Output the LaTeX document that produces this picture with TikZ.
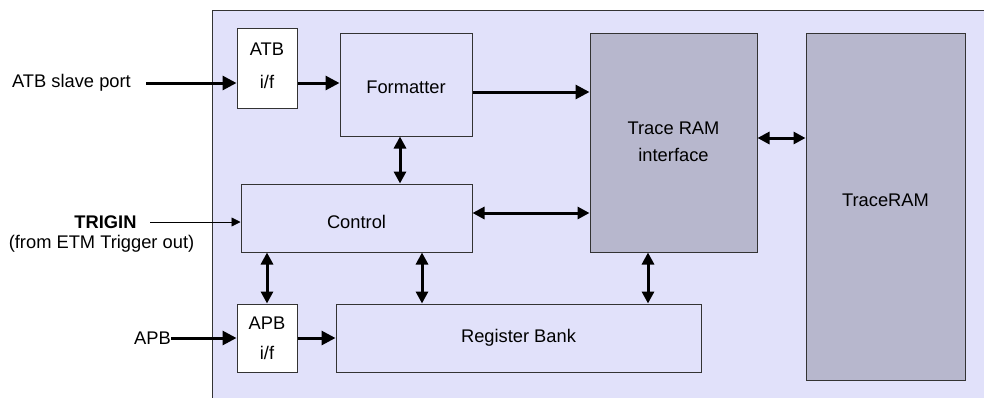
\documentclass[tikz,border=0pt]{standalone}
\usepackage{fontspec}
\setmainfont{Liberation Sans}
\usetikzlibrary{arrows.meta}
\definecolor{lav}{HTML}{E1E1FA}
\definecolor{grayblk}{HTML}{B7B7CD}
\definecolor{edge}{HTML}{333333}
\tikzset{
  blk/.style={draw=edge, line width=1pt, inner sep=0pt},
  lavblk/.style={blk, fill=lav},
  whiteblk/.style={blk, fill=white},
  grayblock/.style={blk, fill=grayblk},
  lbl/.style={inner sep=0pt, align=center, font=\fontsize{18.3}{22}\selectfont},
  bus/.style={line width=3pt, -{Triangle[length=14pt,width=14pt]}},
  bibus/.style={line width=3pt, {Triangle[length=12pt,width=12pt]}-{Triangle[length=12pt,width=12pt]}},
  thin/.style={line width=0.8pt, -{Triangle[length=9pt,width=9pt]}},
}
\begin{document}
\begin{tikzpicture}[x=1pt,y=-1pt]
\useasboundingbox (0,0) rectangle (984,397);
\begin{scope}
\clip (0,0) rectangle (984,397);
\draw[draw=edge, line width=1pt, fill=lav] (212,10) rectangle (1000,410);
\end{scope}

% blocks
\node[whiteblk, minimum width=60pt, minimum height=80pt,
  label={[lbl, yshift=2.5pt, font=\fontsize{18.3}{33}\selectfont]center:ATB\\i/f}] (atbif) at (267,68) {};
\node[lavblk, minimum width=132pt, minimum height=103pt,
  label={[lbl, yshift=-2.5pt]center:Formatter}] (fmt) at (406,84.5) {};
\node[lavblk, minimum width=231pt, minimum height=68pt,
  label={[lbl, yshift=-4pt]center:Control}] (ctrl) at (356.5,218) {};
\node[whiteblk, minimum width=60pt, minimum height=68pt,
  label={[lbl, font=\fontsize{18.3}{30}\selectfont]center:APB\\i/f}] (apbif) at (267,338) {};
\node[lavblk, minimum width=365pt, minimum height=68pt,
  label={[lbl]center:Register Bank}] (reg) at (518.5,338) {};
\node[grayblock, minimum width=167pt, minimum height=219pt,
  label={[lbl, yshift=1pt, font=\fontsize{18.3}{27}\selectfont]center:Trace RAM\\interface}] (tri) at (673.5,142.5) {};
\node[grayblock, minimum width=159pt, minimum height=347pt,
  label={[lbl, yshift=6.5pt]center:TraceRAM}] (tram) at (885.5,206.5) {};

% outside labels
\node[lbl, anchor=east] (atbsp) at (131,83) {ATB slave port};
\coordinate (atbstart) at (146,83);
\node[lbl, font=\fontsize{18.3}{22}\selectfont\bfseries] (trigin) at (105.5,222) {TRIGIN};
\node[lbl] (frometm) at (101.5,244) {(from ETM Trigger out)};
\coordinate (trigstart) at (150,222);
\node[lbl, anchor=east] (apb) at (171,338) {APB};

% connectors
\draw[bus] (atbstart) -- (atbstart -| atbif.west);
\draw[bus] ([yshift=-15pt]atbif.east) -- ([yshift=-15pt]atbif.east -| fmt.west);
\draw[bus] ([yshift=-7.5pt]fmt.east) -- ([yshift=-7.5pt]fmt.east -| tri.west);
\draw[bibus] ([xshift=-6pt]fmt.south) -- ([xshift=-6pt]fmt.south |- ctrl.north);
\draw[thin] (trigstart) -- (trigstart -| ctrl.west);
\draw[bibus] ([yshift=5pt]ctrl.east) -- ([yshift=5pt]ctrl.east -| tri.west);
\draw[bibus] (apbif.north) -- (apbif.north |- ctrl.south);
\draw[bibus] ([xshift=65.5pt]ctrl.south) -- ([xshift=65.5pt]ctrl.south |- reg.north);
\draw[bibus] ([xshift=-25.5pt]tri.south) -- ([xshift=-25.5pt]tri.south |- reg.north);
\draw[bus] (apb.east) -- (apbif.west);
\draw[bus] (apbif.east) -- (reg.west);
\draw[bibus] ([yshift=4.5pt]tri.east) -- ([yshift=4.5pt]tri.east -| tram.west);
\end{tikzpicture}
\end{document}
